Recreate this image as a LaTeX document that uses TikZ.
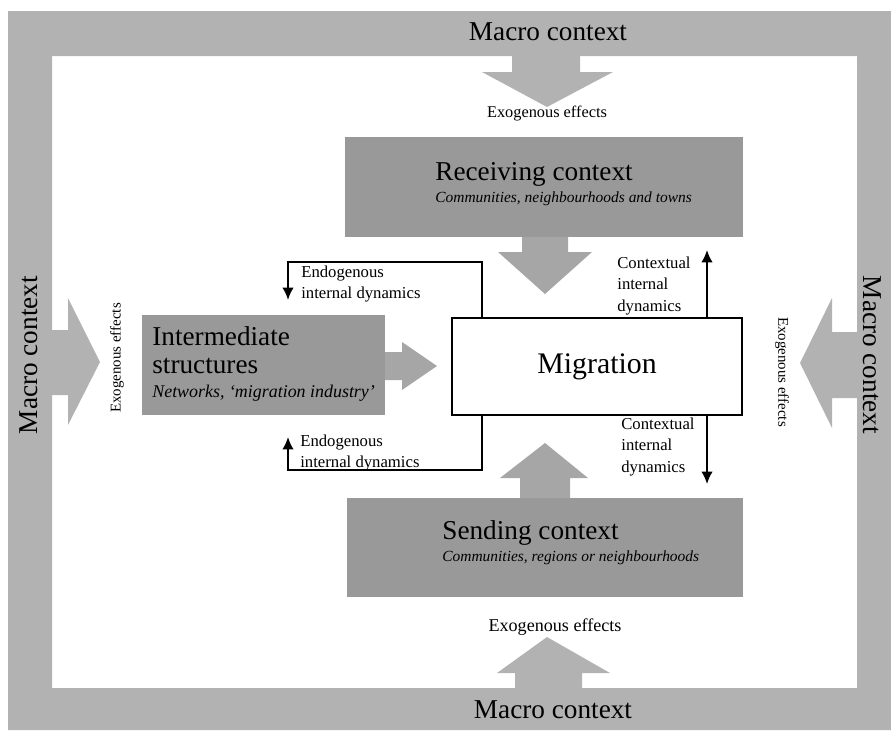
\documentclass[tikz,border=0pt]{standalone}
\usepackage{fontspec}
\setmainfont{Liberation Serif}
\usepackage{tikz}
\usetikzlibrary{calc,arrows.meta}

\begin{document}
\begin{tikzpicture}[x=0.02cm,y=-0.02cm,
  ctx/.style={fill=black!40,inner sep=0pt},
  big/.style={font=\fontsize{15.5}{18}\selectfont},
  title/.style={font=\fontsize{15.5}{18}\selectfont,anchor=west,inner sep=0pt},
  sub/.style={font=\fontsize{8.8}{10}\selectfont\itshape,anchor=west,inner sep=0pt},
  small/.style={font=\fontsize{9.5}{12}\selectfont,align=left,inner sep=0pt},
  flow/.style={line width=1.1pt,-{Latex[length=7pt,width=6.5pt]}}]
  \useasboundingbox (0,0) rectangle (891,730);
  % macro frame
  \fill[black!30,even odd rule] (8,11) rectangle (891,730) (52,56) rectangle (857,688);
  \node[big] (mtop) at (548,32) {Macro context};
  \node[big] (mbot) at (553,710) {Macro context};
  \node[big,rotate=90] (mleft) at (29,355) {Macro context};
  \node[big,rotate=-90] (mright) at (872,355) {Macro context};
  % exogenous arrows
  \fill[black!30] (512,55) -- (512,72) -- (482,72) -- (547,107) -- (613,72) -- (580,72) -- (580,55) -- cycle;
  \fill[black!30] (515,688) -- (515,673) -- (497,673) -- (547,637) -- (610,673) -- (582,673) -- (582,688) -- cycle;
  \fill[black!30] (52,330) -- (68,330) -- (68,298) -- (100,362) -- (68,425) -- (68,395) -- (52,395) -- cycle;
  \fill[black!30] (857,332) -- (832,332) -- (832,298) -- (800,363) -- (832,428) -- (832,398) -- (857,398) -- cycle;
  \node[font=\fontsize{9.3}{11}\selectfont] (extop) at (547,114) {Exogenous effects};
  \node[font=\fontsize{10.3}{12}\selectfont] (exbot) at (555,627) {Exogenous effects};
  \node[font=\fontsize{8.5}{10}\selectfont,rotate=90] (exleft) at (117,358) {Exogenous effects};
  \node[font=\fontsize{8.5}{10}\selectfont,rotate=-90] (exright) at (782,372) {Exogenous effects};
  % contexts
  \node[ctx,minimum width=7.96cm,minimum height=2cm] (recv) at (544,187) {};
  \node[ctx,minimum width=7.92cm,minimum height=1.98cm] (send) at (545,547.5) {};
  \node[ctx,minimum width=4.86cm,minimum height=2cm] (inter) at (263.5,365) {};
  \node[title] (recvtitle) at (435,174) {Receiving context};
  \node[sub] (recvsub) at (435,199) {Communities, neighbourhoods and towns};
  \node[title] (sendtitle) at (442,533) {Sending context};
  \node[sub] (sendsub) at (442,558) {Communities, regions or neighbourhoods};
  \node[title] (intertitle) at (152,336) {Intermediate};
  \node[title] (interline) at (152,366) {structures};
  \node[sub,font=\fontsize{10.2}{11}\selectfont\itshape] (intersub) at (152,393) {Networks, `migration industry'};
  \node[draw,line width=1.1pt,fill=white,minimum width=5.8cm,minimum height=1.94cm,
    font=\fontsize{17}{20}\selectfont] (mig) at (597,366.5) {Migration};
  % block arrows into migration
  \fill[black!35] (522,237) -- (522,252) -- (498,252) -- (545,294) -- (592,252) -- (568,252) -- (568,237) -- cycle;
  \fill[black!35] (520,498) -- (520,478) -- (500,478) -- (545,443) -- (588,478) -- (570,478) -- (570,498) -- cycle;
  \fill[black!35] (385,352) -- (402,352) -- (402,342) -- (437,366) -- (402,390) -- (402,380) -- (385,380) -- cycle;
  % internal dynamics
  \coordinate (endtop) at (288,300);
  \coordinate (endbot) at (288,437);
  \coordinate (conup) at (707,250);
  \coordinate (condown) at (707,484);
  \draw[flow] ($(mig.north west)+(31,0)$) |- ($(endtop)+(0,-38)$) -- (endtop);
  \draw[flow] ($(mig.south west)+(31,0)$) |- ($(endbot)+(0,33)$) -- (endbot);
  \draw[flow] (mig.north -| conup) -- (conup);
  \draw[flow] (mig.south -| condown) -- (condown);
  \node[small,anchor=west] (endtoptxt) at (301,284) {Endogenous\\internal dynamics};
  \node[small,anchor=west] (endbottxt) at (300,453) {Endogenous\\internal dynamics};
  \node[small,anchor=west] (contoptxt) at (617,286) {Contextual\\internal\\dynamics};
  \node[small,anchor=west] (conbottxt) at (621,447) {Contextual\\internal\\dynamics};
\end{tikzpicture}
\end{document}
